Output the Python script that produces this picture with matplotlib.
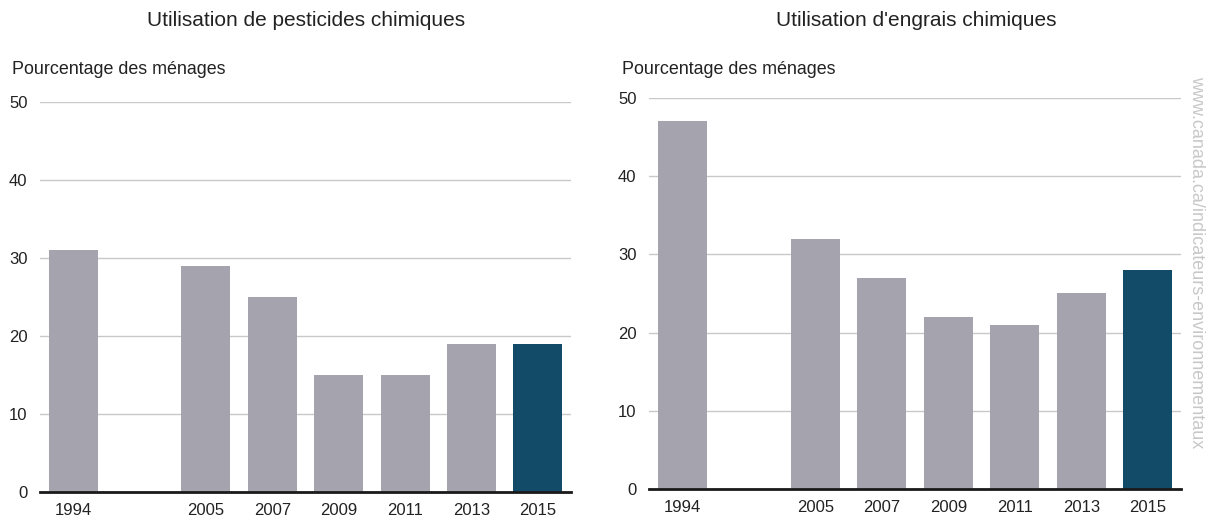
import matplotlib
matplotlib.use("Agg")
import matplotlib.pyplot as plt

plt.rcParams['font.family'] = ['Liberation Sans', 'DejaVu Sans']

# Data
years = ['1994', '2005', '2007', '2009', '2011', '2013', '2015']
positions = [0, 2, 3, 4, 5, 6, 7]
pesticides = [31, 29, 25, 15, 15, 19, 19]
engrais = [47, 32, 27, 22, 21, 25, 28]
yticks = [0, 10, 20, 30, 40, 50]

grey = '#a5a3ae'
blue = '#114b68'
colors = [grey] * 6 + [blue]

W, H = 1207, 517
fig = plt.figure(figsize=(W / 100, H / 100), dpi=100)

# (axes rect, values, title, title center x px, ylabel left x px)
panels = [
    ([0.0331, 0.0484, 0.44, 0.7544], pesticides, 'Utilisation de pesticides chimiques', 306, 12),
    ([0.5377, 0.0542, 0.4408, 0.7563], engrais, "Utilisation d'engrais chimiques", 916, 622),
]

for rect, values, title, tx, lx in panels:
    ax = fig.add_axes(rect)
    ax.bar(positions, values, width=0.74, color=colors, zorder=2)
    ax.set_xlim(-0.5, 7.5)
    ax.set_ylim(0, 50)
    ax.set_yticks(yticks)
    ax.set_xticks(positions)
    ax.set_xticklabels(years)
    ax.grid(axis='y', color='#c8c8c8', linewidth=1, zorder=0)
    for s in ['top', 'right', 'left']:
        ax.spines[s].set_visible(False)
    ax.spines['bottom'].set_linewidth(2)
    ax.spines['bottom'].set_color('#1a1a1a')
    ax.spines['bottom'].set_zorder(3)
    ax.tick_params(axis='both', length=0, labelsize=12, colors='#222222')
    ax.tick_params(axis='y', pad=9)
    ax.tick_params(axis='x', pad=8)
    fig.text(lx / W, 1 - 70 / H, 'Pourcentage des ménages',
             fontsize=12.9, color='#222222', ha='left', va='center')
    fig.text(tx / W, 1 - 20 / H, title, fontsize=15,
             color='#222222', ha='center', va='center')

fig.text(1197 / W, 1 - 262 / H, 'www.canada.ca/indicateurs-environnementaux',
         rotation=-90, ha='center', va='center', fontsize=13, color='#c8c8c8')

fig.savefig('out.png', dpi=100)
